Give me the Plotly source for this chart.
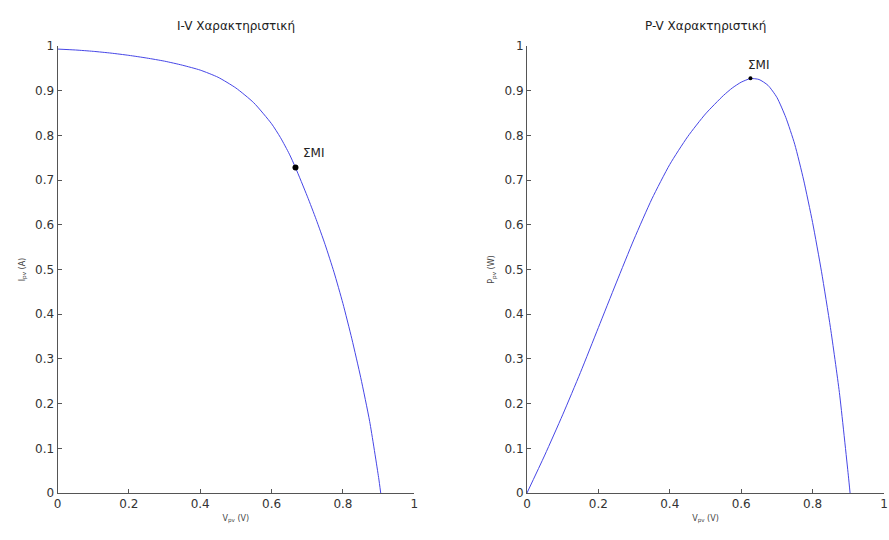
import plotly.graph_objects as go

# I-V characteristic
v_iv = [0, 0.05, 0.1, 0.15, 0.2, 0.25, 0.3, 0.35, 0.4, 0.45, 0.5, 0.55, 0.6, 0.625, 0.65, 0.667,
        0.7, 0.725, 0.75, 0.775, 0.8, 0.825, 0.85, 0.875, 0.9, 0.906]
i_iv = [0.993, 0.991, 0.988, 0.984, 0.979, 0.973, 0.966, 0.957, 0.946, 0.930, 0.906, 0.873, 0.826, 0.795, 0.758, 0.728,
        0.664, 0.612, 0.556, 0.494, 0.424, 0.345, 0.258, 0.160, 0.035, 0.0]
mpp_iv = (0.667, 0.728)

# P-V characteristic
v_pv = [0, 0.05, 0.1, 0.15, 0.2, 0.25, 0.3, 0.35, 0.4, 0.45, 0.5, 0.55, 0.575, 0.6, 0.626, 0.65, 0.675,
        0.7, 0.725, 0.75, 0.775, 0.8, 0.825, 0.85, 0.875, 0.9, 0.905]
p_pv = [0, 0.085, 0.175, 0.27, 0.37, 0.47, 0.568, 0.658, 0.735, 0.797, 0.848, 0.889, 0.906, 0.919, 0.927, 0.925, 0.912,
        0.885, 0.84, 0.78, 0.70, 0.605, 0.495, 0.37, 0.225, 0.04, 0.0]
mpp_pv = (0.626, 0.928)

ticks = [0, 0.1, 0.2, 0.3, 0.4, 0.5, 0.6, 0.7, 0.8, 0.9, 1]
xticks = [0, 0.2, 0.4, 0.6, 0.8, 1]

line_col = "#4646e6"
font = "DejaVu Sans"

fig = go.Figure()
fig.add_trace(go.Scatter(x=v_iv, y=i_iv, mode="lines",
                         line=dict(color=line_col, width=1, shape="spline", smoothing=0.6),
                         xaxis="x", yaxis="y", showlegend=False))
fig.add_trace(go.Scatter(x=[mpp_iv[0]], y=[mpp_iv[1]], mode="markers", marker=dict(color="black", size=6),
                         xaxis="x", yaxis="y", showlegend=False))
fig.add_trace(go.Scatter(x=v_pv, y=p_pv, mode="lines",
                         line=dict(color=line_col, width=1, shape="spline", smoothing=0.6),
                         xaxis="x2", yaxis="y2", showlegend=False))
fig.add_trace(go.Scatter(x=[mpp_pv[0]], y=[mpp_pv[1]], mode="markers", marker=dict(color="black", size=4),
                         xaxis="x2", yaxis="y2", showlegend=False))

axis_common = dict(range=[0, 1], showgrid=False, zeroline=False, showline=True, linecolor="#555",
                   linewidth=1, ticks="inside", ticklen=4, tickcolor="#555",
                   tickfont=dict(family=font, size=12, color="#333"))

fig.update_layout(
    width=889, height=540, margin=dict(l=0, r=0, t=0, b=0),
    paper_bgcolor="white", plot_bgcolor="white",
    xaxis=dict(domain=[54/889, 414/889], anchor="y", tickvals=xticks, ticktext=[str(t) for t in xticks],
               title=dict(text="V<sub>pv</sub> (V)", font=dict(family=font, size=8, color="#444"), standoff=4),
               **axis_common),
    yaxis=dict(domain=[41/540, 500/540], anchor="x", tickvals=ticks, ticktext=[str(t) for t in ticks],
               title=dict(text="I<sub>pv</sub> (A)", font=dict(family=font, size=8, color="#444"), standoff=8),
               **axis_common),
    xaxis2=dict(domain=[527.7/889, 888/889], anchor="y2", tickvals=xticks, ticktext=[str(t) for t in xticks],
                title=dict(text="V<sub>pv</sub> (V)", font=dict(family=font, size=8, color="#444"), standoff=4),
                **axis_common),
    yaxis2=dict(domain=[41/540, 500/540], anchor="x2", tickvals=ticks, ticktext=[str(t) for t in ticks],
                title=dict(text="P<sub>pv</sub> (W)", font=dict(family=font, size=8, color="#444"), standoff=8),
                **axis_common),
    annotations=[
        dict(text="I-V Χαρακτηριστική", x=234/889, y=1 - 19/540, xref="paper", yref="paper",
             xanchor="center", yanchor="middle",
             showarrow=False, font=dict(family=font, size=12, color="#222")),
        dict(text="P-V Χαρακτηριστική", x=708/889, y=1 - 19/540, xref="paper", yref="paper",
             xanchor="center", yanchor="middle",
             showarrow=False, font=dict(family=font, size=12, color="#222")),
        dict(text="ΣΜΙ", x=mpp_iv[0], y=mpp_iv[1], xref="x", yref="y", xanchor="left", yanchor="bottom",
             xshift=6, yshift=6, showarrow=False, font=dict(family=font, size=12, color="#222")),
        dict(text="ΣΜΙ", x=mpp_pv[0], y=mpp_pv[1], xref="x2", yref="y2", xanchor="center", yanchor="bottom",
             xshift=8, yshift=4, showarrow=False, font=dict(family=font, size=12, color="#222")),
    ],
)

fig.write_html("out.html")
